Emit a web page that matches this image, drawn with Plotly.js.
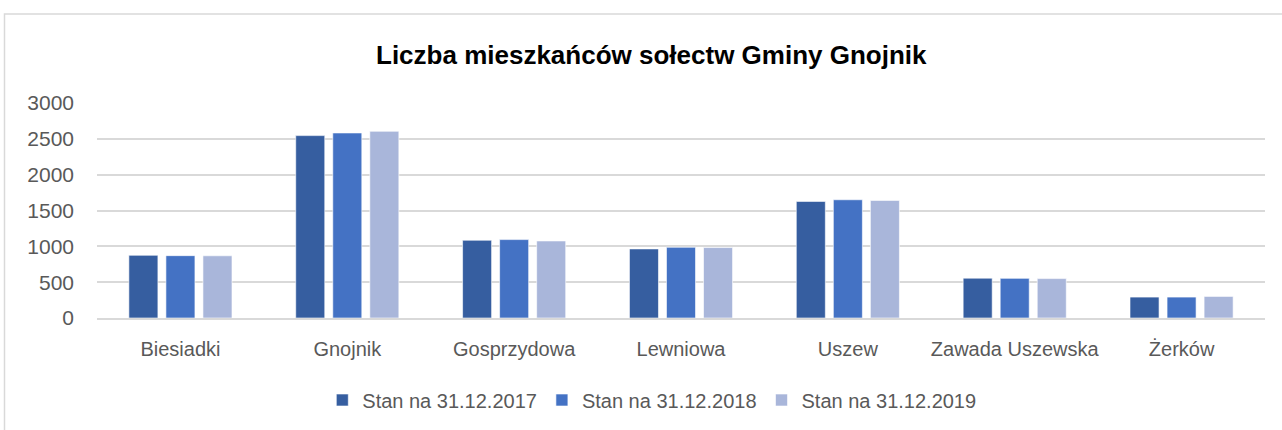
<!DOCTYPE html>
<html><head><meta charset="utf-8">
<script src="https://cdn.plot.ly/plotly-3.0.1.min.js"></script>
<style>html,body{margin:0;padding:0;background:#fff}</style>
</head><body>
<div id="chart" style="width:1282px;height:430px"></div>
<script>
const categories = ["Biesiadki","Gnojnik","Gosprzydowa","Lewniowa","Uszew","Zawada Uszewska","Żerków"];
const seriesNames = ["Stan na 31.12.2017","Stan na 31.12.2018","Stan na 31.12.2019"];
const values2017 = [875, 2545, 1085, 964, 1627, 556, 292];
const values2018 = [870, 2582, 1094, 987, 1650, 553, 292];
const values2019 = [868, 2605, 1075, 983, 1641, 550, 301];
const tickVals = [0, 500, 1000, 1500, 2000, 2500, 3000];

const colors = ["#365EA0", "#4472C4", "#A9B6DA"];
const allValues = [values2017, values2018, values2019];
const traces = allValues.map((v, i) => ({
  type: "bar", x: categories, y: v, name: seriesNames[i],
  marker: {color: colors[i], line: {color: "rgba(255,255,255,0.6)", width: 1}},
  hoverinfo: "x+y"
}));

const ml = 97, mr = 17, mt = 103, mb = 111, W = 1282, H = 430;
const pw = W - ml - mr, ph = H - mt - mb;
const font = "Liberation Sans, Arial, sans-serif";

const layout = {
  width: W, height: H,
  margin: {l: ml, r: mr, t: mt, b: mb},
  paper_bgcolor: "#fff", plot_bgcolor: "#fff",
  title: {text: "<b>Liczba mieszkańców sołectw Gminy Gnojnik</b>",
    font: {family: font, size: 26, color: "#000"},
    xref: "container", x: 0.508, xanchor: "center",
    yref: "container", y: 1 - 55/430, yanchor: "middle"},
  bargap: 0.334, bargroupgap: 0.216, barmode: "group",
  xaxis: {tickfont: {family: font, size: 20, color: "#595959"}, ticks: "",
    showline: true, linecolor: "#d9d9d9", linewidth: 2, ticklabelstandoff: 12,
    fixedrange: true},
  yaxis: {range: [0, 3000], tickvals: tickVals, ticktext: tickVals.map(String),
    tickfont: {family: font, size: 21, color: "#595959"},
    gridcolor: "#d9d9d9", gridwidth: 2, zeroline: false, ticks: "",
    ticklabelstandoff: 22, fixedrange: true},
  legend: {orientation: "h", x: 0.475, xanchor: "center", y: (319 - 400) / ph, yanchor: "middle",
    font: {family: font, size: 20, color: "#595959"}, traceorder: "normal",
    itemwidth: 30},
  showlegend: true,
  shapes: [{type: "rect", xref: "paper", yref: "paper",
    x0: (4.5 - ml) / pw, x1: (W + 20 - ml) / pw,
    y0: -2, y1: (319 - 13.5) / ph,
    line: {color: "#d9d9d9", width: 1.5}, fillcolor: "rgba(0,0,0,0)", layer: "below"}]
};

Plotly.newPlot("chart", traces, layout, {displayModeBar: false, staticPlot: false});
</script>
</body></html>
